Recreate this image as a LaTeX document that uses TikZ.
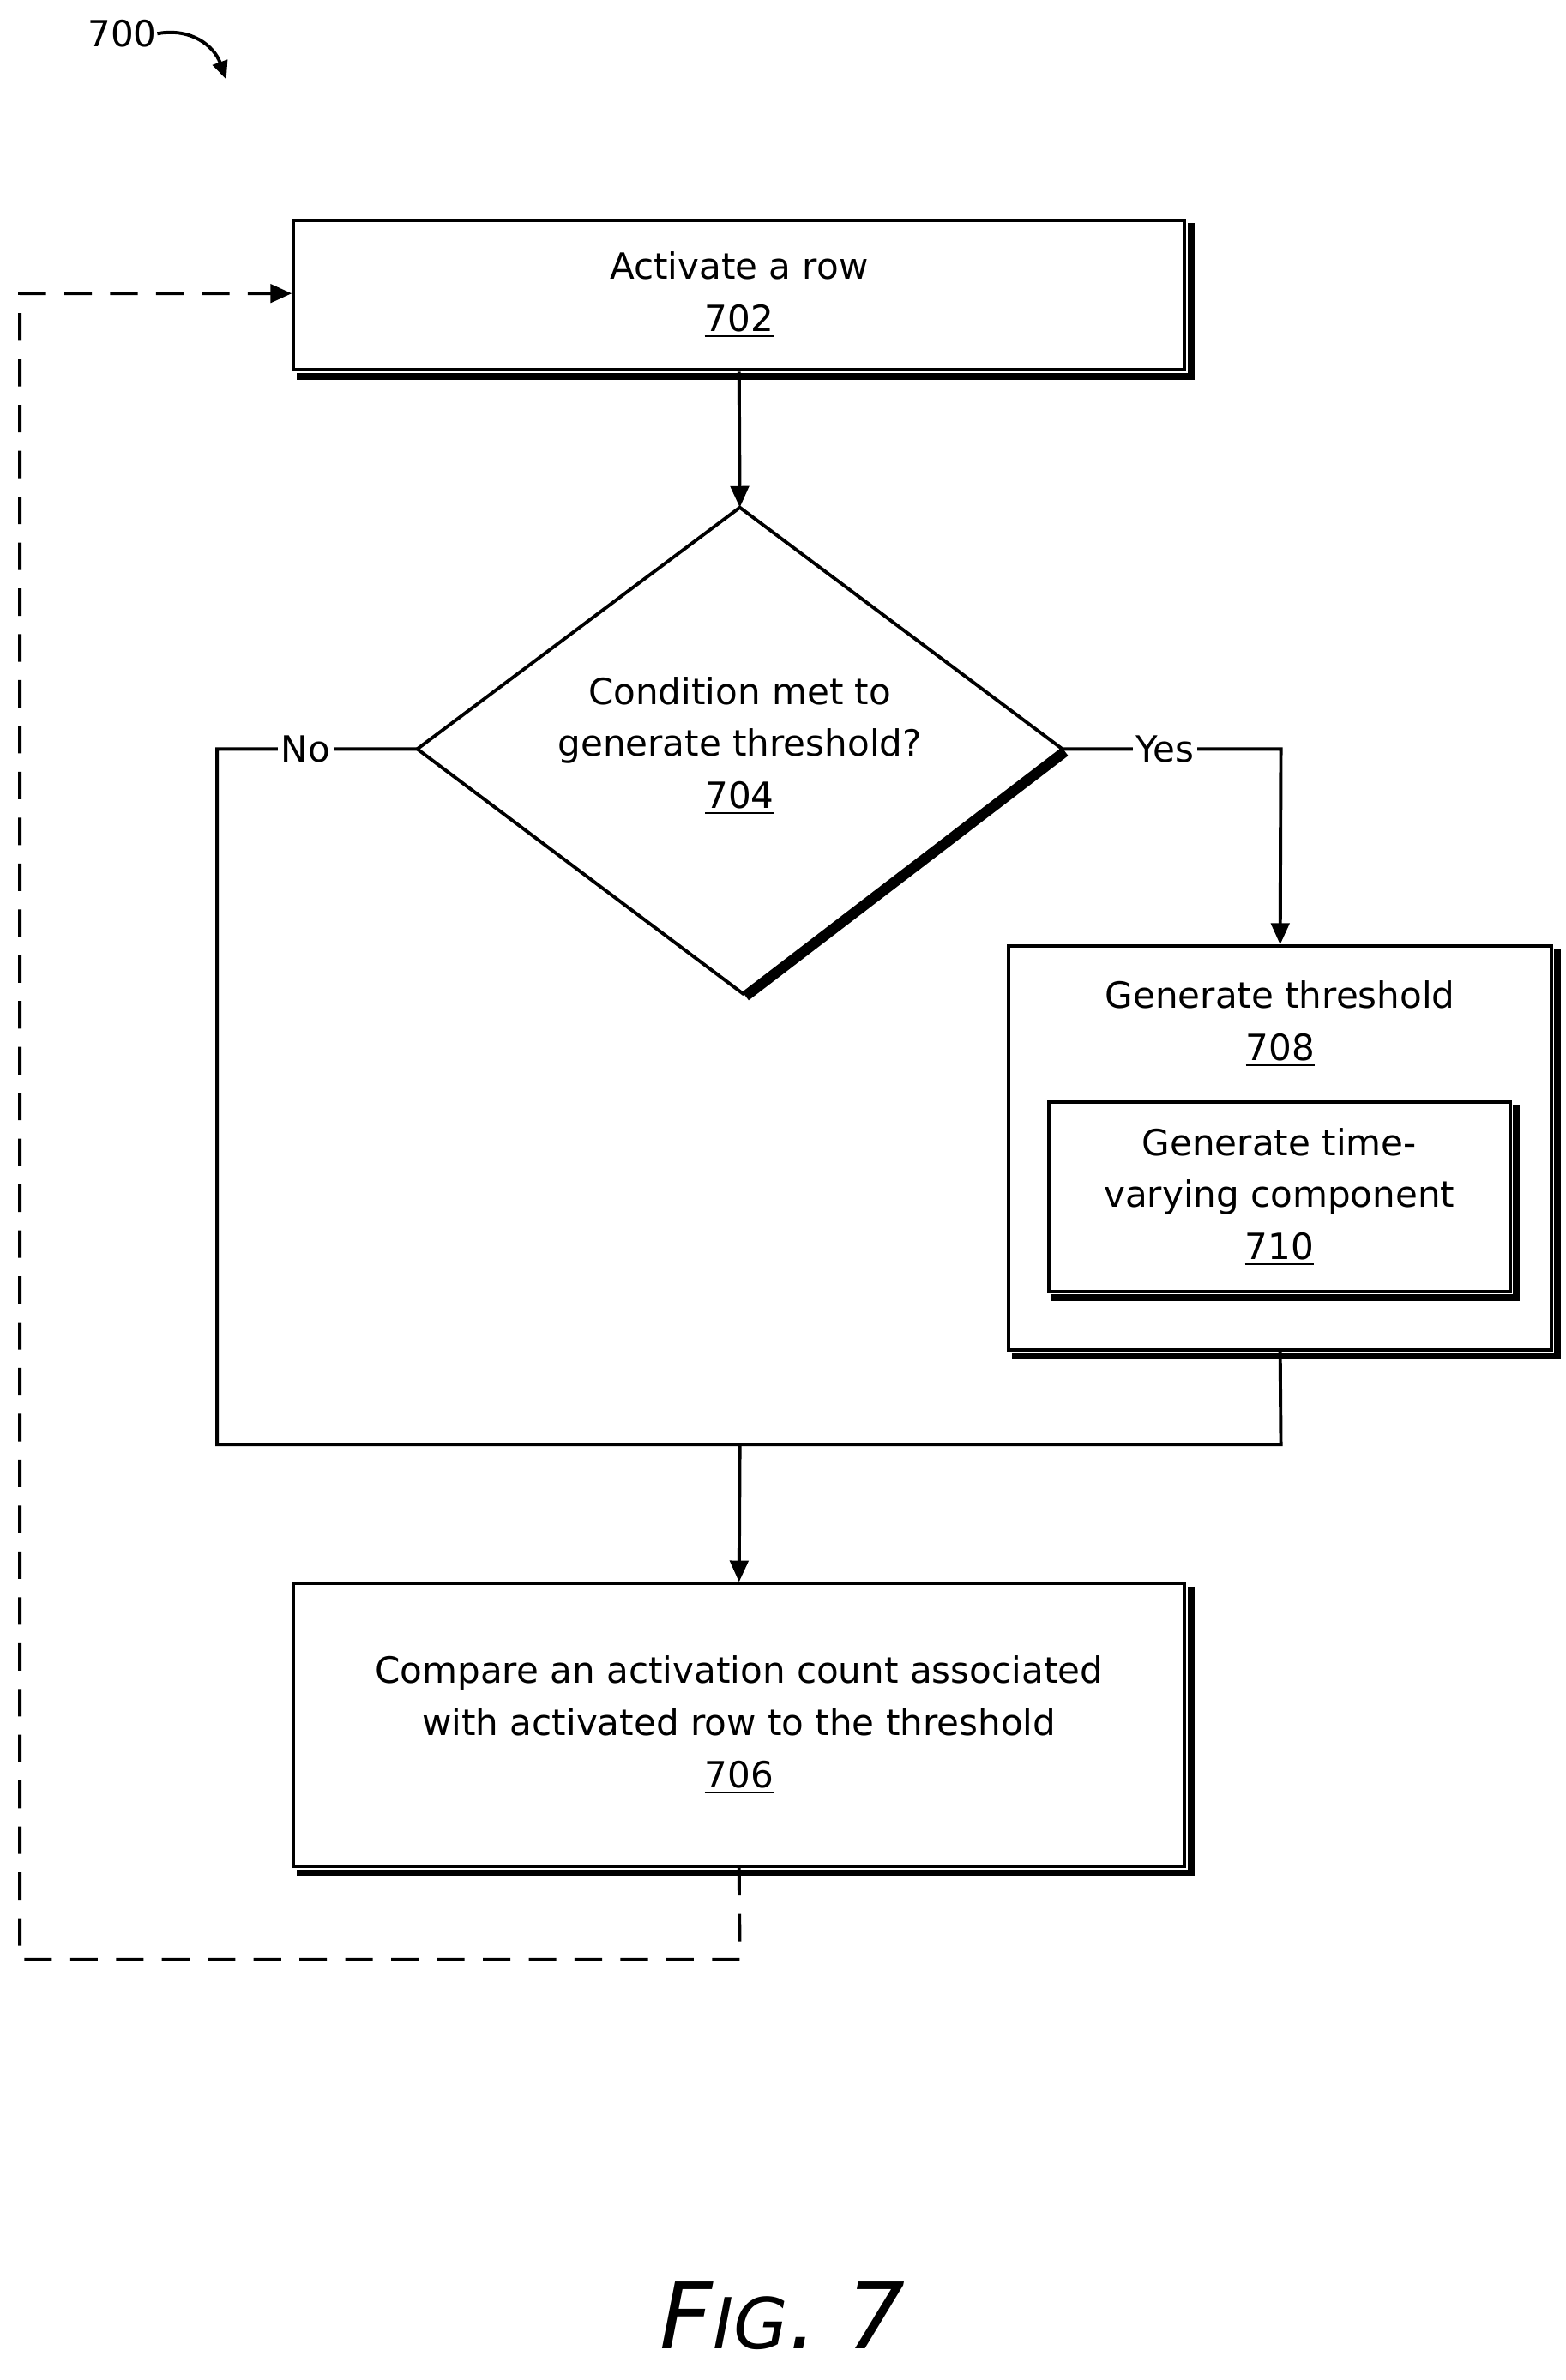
\documentclass[tikz,border=0pt]{standalone}
\usepackage{fontspec}
\setmainfont{DejaVu Sans}
\usetikzlibrary{shapes.geometric,arrows.meta}
\begin{document}
\begin{tikzpicture}[x=0.5pt,y=-0.5pt,
  box/.style={draw,line width=1.1pt,inner sep=0pt,align=center,font=\fontsize{11.8}{17}\selectfont},
  sh/.style={line width=2.2pt},
  ln/.style={line width=1.1pt},
  arr/.style={ln,-{Triangle[length=7pt,width=6pt]}},
  txt/.style={font=\fontsize{11.8}{17}\selectfont,inner sep=0pt}]
\useasboundingbox (0,0) rectangle (1024,1557);
\node[box,minimum width=291.5pt,minimum height=49pt] (a) at (483.5,193) {Activate a row\\\underline{702}};
\draw[sh] ([xshift=1.5pt,yshift=-1.5pt]a.north east) |- ([xshift=1.5pt,yshift=-1.5pt]a.south west);
\coordinate (dt) at (484,332); \coordinate (dl) at (273,490); \coordinate (dr) at (695,490); \coordinate (db) at (486,650);
\draw[ln] (dt) -- (dr) -- (db) -- (dl) -- cycle;
\draw[line width=3pt] ([xshift=1pt,yshift=-1pt]dr) -- ([xshift=1pt,yshift=-1pt]db);
\node[txt,align=center] (d) at (484,488) {Condition met to\\generate threshold?\\\underline{704}};
\node[box,minimum width=177.5pt,minimum height=132pt] (g) at (837.5,751) {};
\draw[sh] ([xshift=1.5pt,yshift=-1.5pt]g.north east) |- ([xshift=1.5pt,yshift=-1.5pt]g.south west);
\node[txt,align=center] (gt) at (837.5,670) {Generate threshold\\\underline{708}};
\node[box,minimum width=151pt,minimum height=62pt] (t) at (837,783) {Generate time-\\varying component\\\underline{710}};
\draw[sh] ([xshift=1.5pt,yshift=-1.5pt]t.north east) |- ([xshift=1.5pt,yshift=-1.5pt]t.south west);
\node[box,minimum width=291.5pt,minimum height=92.5pt] (c) at (483.5,1128.5) {Compare an activation count associated\\with activated row to the threshold\\\underline{706}};
\draw[sh] ([xshift=1.5pt,yshift=-1.5pt]c.north east) |- ([xshift=1.5pt,yshift=-1.5pt]c.south west);
\coordinate (j) at (484,945);
\draw[arr] (a.south) -- (dt);
\draw[ln] (dl) -- (142,490) -- (142,945) -- (838,945) -- (g.south);
\node[txt,fill=white,inner sep=1pt] at (200,490) {No};
\draw[arr] (dr) -- (838,490) -- (g.north);
\node[txt,fill=white,inner sep=1pt] at (762,490) {Yes};
\draw[arr] (j) -- (c.north);
\coordinate (lb) at (13,1282); \coordinate (lt) at (13,192);
\draw[ln,dash pattern=on 9pt off 6pt,-{Triangle[length=7pt,width=6pt]}] (c.south) -- (484,1282) -- (lb) -- (lt) -- (a.west|-lt);
\node[txt] (n700) at (80,22) {700};
\coordinate (p) at (148,52);
\draw[ln,-{Triangle[length=6pt,width=5pt]}] (n700.east) .. controls (125,18) and (140,30) .. (p);
\node[font=\itshape\fontsize{30}{36}\selectfont,inner sep=0pt] (fig) at (512,1515) {F{\fontsize{23}{28}\selectfont IG}. 7};
\end{tikzpicture}
\end{document}
